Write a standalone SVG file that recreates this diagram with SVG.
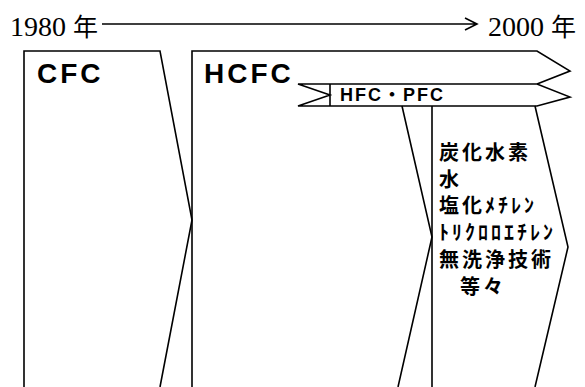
<svg xmlns="http://www.w3.org/2000/svg" width="585" height="387" viewBox="0 0 585 387">
<style>
.ln{fill:none;stroke:#000;stroke-width:1.6;stroke-linejoin:miter}
.yr{font-family:"Liberation Serif","Noto Sans CJK JP",serif;font-size:28px;fill:#000}
.big{font-family:"Liberation Sans",Arial,sans-serif;font-weight:bold;font-size:28px;letter-spacing:3px;fill:#000}
.band{font-family:"Liberation Sans","Noto Sans CJK JP",sans-serif;font-weight:bold;font-size:18px;fill:#000}
.jp{font-family:"Noto Sans CJK JP",sans-serif;font-weight:bold;font-size:20px;letter-spacing:3px;fill:#000}
</style>
<rect width="585" height="387" fill="#fff"/>
<g id="timeline">
<text class="yr" x="10" y="36">1980 <tspan font-size="25" font-family="Noto Sans CJK JP, serif">年</tspan></text>
<text class="yr" x="488" y="36">2000 <tspan font-size="25" font-family="Noto Sans CJK JP, serif">年</tspan></text>
</g>
<g id="connectors">
<path class="ln" d="M102,24 H477 M465,18 L477,24 L465,30"/>
</g>
<g id="cfc">
<path class="ln" d="M24,387 V51 H160 L192,220 L160,387"/>
<text class="big" x="37" y="83">CFC</text>
</g>
<g id="hcfc">
<path class="ln" d="M192,387 V51 H537 L570,71 L537,84"/>
<path class="ln" d="M402,106 L432,237 L398,387"/>
<text class="big" x="204" y="83">HCFC</text>
</g>
<g id="hfc-pfc">
<path class="ln" d="M298,84 H537 L570,97 L537,106 H298 L330,95 Z M330,84 V106"/>
<text class="band" x="340" y="101" textLength="103" lengthAdjust="spacing">HFC・PFC</text>
</g>
<g id="alternatives">
<path class="ln" d="M432,106 V387 M535,106 L568,247 L535,387"/>
<text class="jp" x="439" y="160">炭化水素</text>
<text class="jp" x="439" y="186.5">水</text>
<text class="jp" x="439" y="213">塩化ﾒﾁﾚﾝ</text>
<text class="jp" x="439" y="240">ﾄﾘｸﾛﾛｴﾁﾚﾝ</text>
<text class="jp" x="439" y="267">無洗浄技術</text>
<text class="jp" x="460" y="293.5">等々</text>
</g>
</svg>
